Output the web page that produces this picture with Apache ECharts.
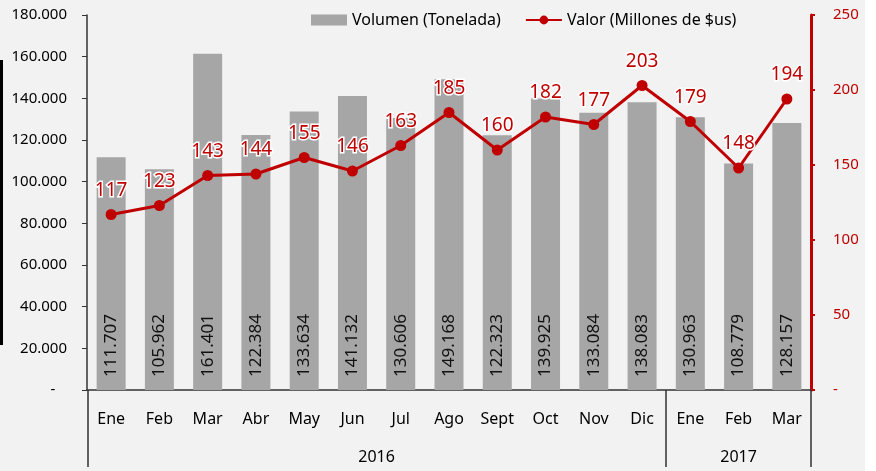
<!DOCTYPE html>
<html>
<head>
<meta charset="utf-8">
<script src="https://cdn.jsdelivr.net/npm/echarts@6/dist/echarts.min.js"></script>
<style>
  html, body { margin: 0; padding: 0; background: #fff; }
  #chart { width: 876px; height: 471px; }
</style>
</head>
<body>
<div id="chart"></div>
<script>
// datos
var meses = ["Ene","Feb","Mar","Abr","May","Jun","Jul","Ago","Sept","Oct","Nov","Dic","Ene","Feb","Mar"];
var volumen = [111707,105962,161401,122384,133634,141132,130606,149168,122323,139925,133084,138083,130963,108779,128157];
var valor = [117,123,143,144,155,146,163,185,160,182,177,203,179,148,194];
var anios = ["2016","2017"];
var aniosCentro = [6, 13.5];       // centro de cada grupo de meses
var aniosCorte = [0.01, 12, 14.99]; // separadores entre grupos

var rojo = "#c00000";
var fuente = "Noto Sans";

function miles (v) {
    if (v === 0) return "-";
    return String(v).replace(/\B(?=(\d{3})+(?!\d))/g, ".");
}

var chart = echarts.init(document.getElementById("chart"));
var option = {
    backgroundColor: "#f2f2f2",
    textStyle: { fontFamily: fuente },
    animation: false,
    graphic: [
        { type: "rect", shape: { x: 865, y: 0, width: 11, height: 471 }, style: { fill: "#fff" } },
        { type: "rect", shape: { x: 0, y: 60, width: 3, height: 285 }, style: { fill: "#000" } }
    ],
    legend: {
        top: 7,
        left: 306,
        itemGap: 24,
        textStyle: { fontSize: 16, color: "#000", fontFamily: fuente },
        data: [
            { name: "Volumen (Tonelada)", icon: "rect", itemStyle: { color: "#a6a6a6" } },
            { name: "Valor (Millones de $us)" }
        ],
        itemWidth: 36,
        itemHeight: 11
    },
    grid: { left: 87, right: 65, top: 15, bottom: 81, containLabel: false },
    xAxis: [
        {
            type: "category",
            data: meses,
            axisLine: { lineStyle: { color: "#333", width: 1.5 } },
            axisTick: { show: false },
            axisLabel: { color: "#000", fontSize: 16, margin: 21, interval: 0 }
        },
        {
            type: "value",
            min: 0,
            max: 15,
            position: "bottom",
            offset: 0,
            axisLine: { show: false },
            splitLine: { show: false },
            axisTick: {
                show: true,
                length: 77,
                customValues: aniosCorte,
                lineStyle: { color: "#333", width: 1.5 }
            },
            axisLabel: {
                margin: 59,
                color: "#000",
                fontSize: 16,
                customValues: aniosCentro,
                formatter: function (v) { return v < 12 ? anios[0] : anios[1]; }
            }
        }
    ],
    yAxis: [
        {
            type: "value",
            min: 0,
            max: 180000,
            interval: 20000,
            axisLine: { show: true, lineStyle: { color: "#333", width: 1.5 } },
            axisTick: { show: true, length: 5, lineStyle: { color: "#333" } },
            splitLine: { show: false },
            axisLabel: {
                color: "#000",
                fontSize: 15,
                margin: 20,
                formatter: function (v) { return v === 0 ? "-   " : miles(v); }
            }
        },
        {
            type: "value",
            min: 0,
            max: 250,
            interval: 50,
            position: "right",
            axisLine: { show: true, lineStyle: { color: rojo, width: 3 } },
            axisTick: { show: true, length: 4, lineStyle: { color: rojo, width: 2 } },
            splitLine: { show: false },
            axisLabel: { color: rojo, fontSize: 15, margin: 22, formatter: function (v) { return v === 0 ? "-" : v; } }
        }
    ],
    series: [
        {
            name: "Volumen (Tonelada)",
            type: "bar",
            data: volumen,
            barWidth: 29,
            itemStyle: { color: "#a6a6a6" },
            label: {
                show: true,
                position: "insideBottom",
                rotate: 90,
                align: "left",
                verticalAlign: "middle",
                distance: 13,
                color: "#111",
                fontSize: 17,
                formatter: function (p) { return miles(p.value); }
            }
        },
        {
            name: "Valor (Millones de $us)",
            type: "line",
            yAxisIndex: 1,
            data: valor,
            symbol: "circle",
            symbolSize: 11,
            lineStyle: { color: rojo, width: 3 },
            itemStyle: { color: rojo },
            label: {
                show: true,
                position: "top",
                distance: 9,
                color: rojo,
                fontSize: 19,
                textBorderColor: "#fff",
                textBorderWidth: 3
            }
        }
    ]
};
chart.setOption(option);
</script>
</body>
</html>
